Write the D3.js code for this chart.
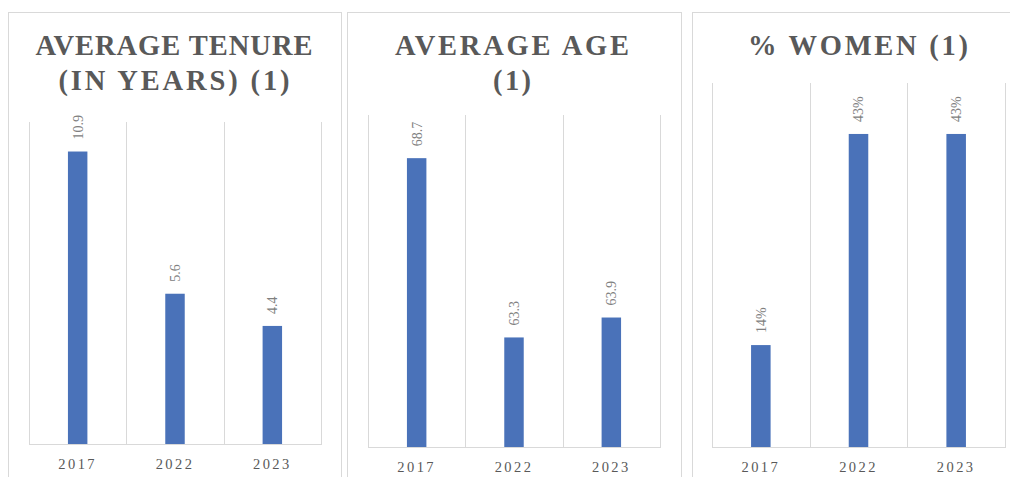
<!DOCTYPE html>
<html>
<head>
<meta charset="utf-8">
<script src="https://cdn.jsdelivr.net/npm/d3@7"></script>
<style>
  html, body { margin: 0; padding: 0; background: #fff; }
  svg { display: block; }
</style>
</head>
<body>
<svg id="chart" width="1010" height="477"></svg>
<script>
// Board statistics, one small bar chart per metric
const years = ["2017", "2022", "2023"];
const tenureValues = [10.9, 5.6, 4.4];
const ageValues = [68.7, 63.3, 63.9];
const womenValues = [0.14, 0.43, 0.43];

const tenureTitle = ["AVERAGE TENURE", "(IN YEARS) (1)"];
const ageTitle = ["AVERAGE AGE", "(1)"];
const womenTitle = ["% WOMEN (1)"];

const tenureDomain = [0, 12];
const ageDomain = [60, 70];
const womenDomain = [0, 0.5];

// layout of each panel: frame, plot area and the set width of each title line
const panels = [
  { title: tenureTitle, values: tenureValues, domain: tenureDomain, fmt: d3.format(".1f"),
    box: { x: 8, y: 12, w: 333 }, titleCx: 174, titleW: [277, 231],
    plot: { x0: 29, x1: 321, y0: 122, y1: 444 } },
  { title: ageTitle, values: ageValues, domain: ageDomain, fmt: d3.format(".1f"),
    box: { x: 347, y: 12, w: 334 }, titleCx: 512, titleW: [234, 38],
    plot: { x0: 368, x1: 660, y0: 115, y1: 447 } },
  { title: womenTitle, values: womenValues, domain: womenDomain, fmt: d3.format(".0%"),
    box: { x: 692, y: 12, w: 334 }, titleCx: 858, titleW: [220],
    plot: { x0: 712, x1: 1005, y0: 83, y1: 447 } }
];

const svg = d3.select("#chart");
const serif = "'Liberation Serif', 'Times New Roman', serif";
const barColor = "#4a72b9";
const gridColor = "#d9d9d9";

panels.forEach(p => {
  const g = svg.append("g");

  // panel frame (runs past the bottom edge)
  g.append("rect")
    .attr("x", p.box.x + 0.5).attr("y", p.box.y + 0.5)
    .attr("width", p.box.w).attr("height", 500)
    .attr("fill", "#fff").attr("stroke", gridColor).attr("stroke-width", 1);

  // title, one text element per line, spread to its set width
  g.selectAll("text.title").data(p.title).join("text")
    .attr("class", "title")
    .attr("x", (d, i) => p.titleCx - p.titleW[i] / 2)
    .attr("y", (d, i) => 55 + i * 35)
    .attr("textLength", (d, i) => p.titleW[i])
    .attr("lengthAdjust", "spacing")
    .style("font-family", serif).style("font-weight", "bold")
    .style("font-size", "28.5px")
    .attr("fill", "#595959")
    .text(d => d);

  const x = d3.scaleBand().domain(years).range([p.plot.x0, p.plot.x1]).padding(0);
  const y = d3.scaleLinear().domain(p.domain).range([p.plot.y1, p.plot.y0]);

  // vertical gridlines at category boundaries
  const edges = years.map(d => x(d)).concat([x.range()[1]]);
  g.selectAll("line.grid").data(edges).join("line")
    .attr("class", "grid")
    .attr("x1", d => Math.round(d) + 0.5).attr("x2", d => Math.round(d) + 0.5)
    .attr("y1", p.plot.y0).attr("y2", p.plot.y1)
    .attr("stroke", gridColor).attr("stroke-width", 1);

  // bars
  const bw = x.bandwidth() * 0.2;
  g.selectAll("rect.bar").data(years).join("rect")
    .attr("class", "bar")
    .attr("x", (d) => x(d) + x.bandwidth() / 2 - bw / 2)
    .attr("width", bw)
    .attr("y", (d, i) => y(p.values[i]))
    .attr("height", (d, i) => y(p.domain[0]) - y(p.values[i]))
    .attr("fill", barColor);

  // category axis
  const axis = d3.axisBottom(x).tickSize(0).tickPadding(15);
  const ax = g.append("g").attr("transform", `translate(0,${p.plot.y1})`).call(axis);
  ax.select(".domain").attr("stroke", gridColor).attr("d", `M${p.plot.x0},0.5H${p.plot.x1 + 1}`);
  ax.selectAll("text")
    .style("font-family", serif).style("font-size", "14.5px").style("letter-spacing", "2.4px")
    .attr("fill", "#595959").attr("dy", "0.71em");

  // rotated value labels above the bars
  g.selectAll("text.val").data(years).join("text")
    .attr("class", "val")
    .attr("transform", (d, i) => {
      const tx = x(d) + x.bandwidth() / 2;
      const ty = y(p.values[i]) - 12;
      return `translate(${tx},${ty}) rotate(-90)`;
    })
    .attr("dy", "0.35em")
    .attr("text-anchor", "start")
    .style("font-family", serif).style("font-size", "14px")
    .attr("fill", "#808080")
    .text((d, i) => p.fmt(p.values[i]));
});
</script>
</body>
</html>
